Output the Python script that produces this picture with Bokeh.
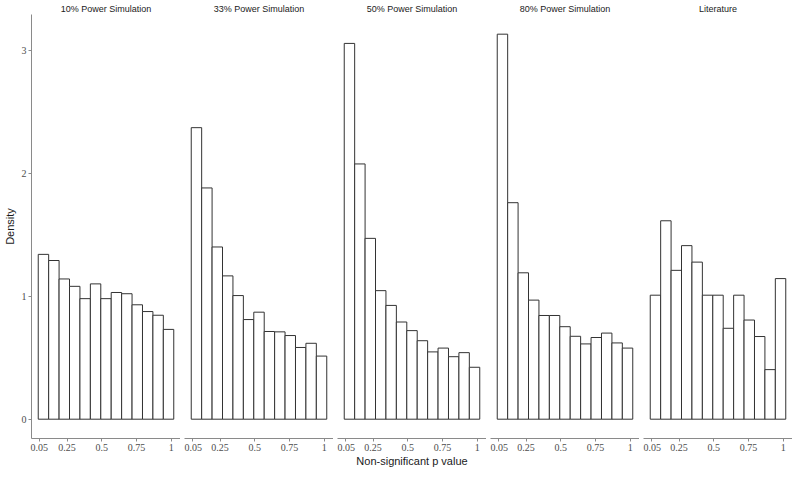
from bokeh.plotting import figure
from bokeh.layouts import row
from bokeh.models import Range1d, FixedTicker, ColumnDataSource
from bokeh.embed import file_html
from bokeh.resources import INLINE

# ---- data ----
panel_titles = ["10% Power Simulation", "33% Power Simulation", "50% Power Simulation",
                "80% Power Simulation", "Literature"]
bin_edges = [0.0425, 0.1175, 0.1925, 0.2675, 0.3425, 0.4175, 0.4925, 0.5675,
             0.6425, 0.7175, 0.7925, 0.8675, 0.9425, 1.0175]
density_10 = [1.34, 1.29, 1.14, 1.08, 0.98, 1.10, 0.98, 1.03, 1.02, 0.93, 0.875, 0.845, 0.73]
density_33 = [2.37, 1.88, 1.40, 1.165, 1.005, 0.81, 0.87, 0.713, 0.71, 0.68, 0.583, 0.617, 0.513]
density_50 = [3.055, 2.075, 1.47, 1.045, 0.925, 0.79, 0.72, 0.638, 0.547, 0.578, 0.508, 0.541, 0.422]
density_80 = [3.13, 1.76, 1.19, 0.968, 0.843, 0.843, 0.752, 0.674, 0.612, 0.664, 0.70, 0.62, 0.578]
density_lit = [1.008, 1.613, 1.21, 1.411, 1.277, 1.008, 1.008, 0.739, 1.008, 0.806, 0.672, 0.403, 1.143]
x_ticks = [0.05, 0.25, 0.5, 0.75, 1.0]
x_tick_labels = ["0.05", "0.25", "0.5", "0.75", "1"]
y_ticks = [0, 1, 2, 3]
y_tick_labels = ["0", "1", "2", "3"]
x_label = "Non-significant p value"
y_label = "Density"

all_density = [density_10, density_33, density_50, density_80, density_lit]

AXIS_COL = "#8a8a8a"
TICK_TXT = "#4d4d4d"
FONT = "Liberation Sans"
TICK_FONT = "Liberation Serif"

figs = []
for i, (title, dens) in enumerate(zip(panel_titles, all_density)):
    p = figure(frame_width=149, frame_height=424, output_backend="svg", toolbar_location=None,
               x_range=Range1d(-0.006, 1.066), y_range=Range1d(-0.157, 3.29),
               min_border_left=0, min_border_right=0, min_border_top=0, min_border_bottom=0)
    p.title.text = title
    p.title.align = "center"
    p.title.text_font = FONT
    p.title.text_font_size = "9px"
    p.title.text_font_style = "normal"
    p.title.text_color = "#1a1a1a"
    p.title.standoff = 2
    p.title.offset = 0

    src = ColumnDataSource(dict(left=bin_edges[:-1], right=bin_edges[1:], top=dens,
                                bottom=[0] * len(dens)))
    p.quad(left="left", right="right", top="top", bottom="bottom", source=src,
           fill_color="white", line_color="#333333", line_width=1)

    p.xgrid.visible = False
    p.ygrid.visible = False
    p.outline_line_color = None
    p.background_fill_color = "white"
    p.border_fill_color = "white"

    xa = p.xaxis[0]
    xa.ticker = FixedTicker(ticks=x_ticks)
    xa.major_label_overrides = {t: l for t, l in zip(x_ticks, x_tick_labels)}
    xa.minor_tick_line_color = None
    xa.axis_line_color = AXIS_COL
    xa.major_tick_line_color = AXIS_COL
    xa.major_tick_out = 3
    xa.major_tick_in = 0
    xa.major_label_standoff = 2
    xa.major_label_text_font = TICK_FONT
    xa.major_label_text_font_size = "10px"
    xa.major_label_text_color = TICK_TXT
    xa.axis_label = x_label
    xa.axis_label_text_font = FONT
    xa.axis_label_text_font_size = "11px"
    xa.axis_label_text_font_style = "normal"
    xa.axis_label_text_color = "#1a1a1a"
    xa.axis_label_standoff = 1
    if i != 2:
        xa.axis_label_text_alpha = 0

    ya = p.yaxis[0]
    if i == 0:
        ya.ticker = FixedTicker(ticks=y_ticks)
        ya.major_label_overrides = {t: l for t, l in zip(y_ticks, y_tick_labels)}
        ya.minor_tick_line_color = None
        ya.axis_line_color = AXIS_COL
        ya.major_tick_line_color = AXIS_COL
        ya.major_tick_out = 3
        ya.major_tick_in = 0
        ya.major_label_standoff = 2
        ya.major_label_text_font = TICK_FONT
        ya.major_label_text_font_size = "10px"
        ya.major_label_text_color = TICK_TXT
        ya.axis_label = y_label
        ya.axis_label_text_font = FONT
        ya.axis_label_text_font_size = "11px"
        ya.axis_label_text_font_style = "normal"
        ya.axis_label_text_color = "#1a1a1a"
        ya.axis_label_standoff = 3
    else:
        ya.visible = False
    figs.append(p)

layout = row(*figs, spacing=4)
open("out.html", "w").write(file_html(layout, INLINE))
